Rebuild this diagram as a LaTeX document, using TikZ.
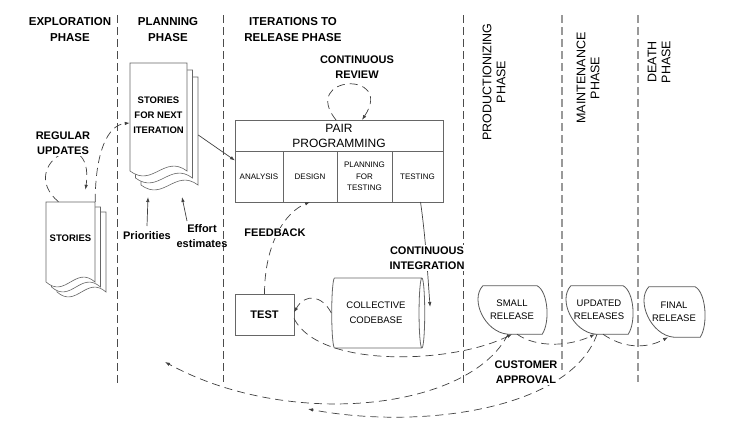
\documentclass[tikz,border=0pt]{standalone}
\usepackage{fontspec}
\setmainfont{Liberation Sans}
\usetikzlibrary{shapes, arrows.meta, positioning}

\tikzset{
	phase/.style={align=center, font=\bfseries\fontsize{11.5}{16}\selectfont},
	vphase/.style={align=center, rotate=90, font=\fontsize{12.5}{14}\selectfont},
	tag/.style={align=center, inner sep=1pt, font=\bfseries\fontsize{11}{15.5}\selectfont},
	mask/.style={fill=white},
	divider/.style={dash pattern=on 8pt off 4pt, line width=0.7pt, black!70},
	flow/.style={->, dash pattern=on 8pt off 5pt, line width=0.7pt, black!75},
	link/.style={->, line width=0.7pt, black!75},
	page/.style={draw=black!60, fill=white, line width=0.6pt},
	doctext/.style={align=center, font=\bfseries\fontsize{9.5}{15}\selectfont},
	cell/.style={rectangle, draw=black!60, line width=1pt, outer sep=0pt, align=center, font=\fontsize{8}{11.5}\selectfont},
	release/.style={align=center, minimum height=48pt, font=\fontsize{9.5}{13}\selectfont},
	blob/.style={draw=black!65, line width=0.8pt},
	>={Latex[length=5pt,width=3.5pt]}
}

% one sheet of a story stack: left, top, width, height
\newcommand{\storypage}[4]{%
	\draw[page] (#1,#2) -- ++(#3,0) -- ++(0,#4)
		.. controls +(-0.4*#3,-17) and +(0.4*#3,17) .. ++(-#3,0) -- cycle;}

% outline round a release node
\newcommand{\releaseblob}[1]{%
	\draw[blob] ([xshift=6pt]#1.north west) -- ([xshift=-10pt]#1.north east)
		.. controls ([xshift=1pt,yshift=-6pt]#1.north east) and ([xshift=3pt,yshift=12pt]#1.south east)
		.. ([xshift=-5pt]#1.south east) -- ([xshift=31pt]#1.south west)
		.. controls ([xshift=8pt,yshift=2pt]#1.south west) and ([xshift=-7pt,yshift=-14pt]#1.north west)
		.. ([xshift=6pt]#1.north west) -- cycle;}

\begin{document}
\begin{tikzpicture}[x=1pt, y=-1pt]
	\useasboundingbox (0,0) rectangle (738,437);
	
	\node[phase] (explo) at (70,30) {EXPLORATION\\PHASE};
	\node[phase] (plan) at (168,30) {PLANNING\\PHASE};
	\node[phase] (iter) at (293,30) {ITERATIONS TO\\RELEASE PHASE};
	\node[vphase] (prod) at (494,82) {PRODUCTIONIZING\\PHASE};
	\node[vphase] (maint) at (588,78) {MAINTENANCE\\PHASE};
	\node[vphase] (death) at (659,62) {DEATH\\PHASE};
	
	\draw[divider] (117,15) -- (117,383);
	\draw[divider] (223,15) -- (223,382);
	\draw[divider] (463,15) -- (463,385);
	\draw[divider, black!40, line width=1.2pt] (562,15) -- (562,370);
	\draw[divider, black!40, line width=1.2pt] (638,15) -- (638,382);
	
	% story stacks
	\storypage{57}{212}{49}{80}
	\storypage{51.5}{207}{49}{80}
	\storypage{46}{202}{49}{80}
	\node[doctext, minimum width=49pt, minimum height=72pt] (stories) at (70.5,238) {STORIES};
	
	\storypage{141}{77}{57}{108}
	\storypage{135.5}{70}{57}{108}
	\storypage{130}{63}{57}{108}
	\node[doctext, minimum width=57pt, minimum height=104pt] (sfni) at (158.5,115) {STORIES\\FOR NEXT\\ITERATION};
	
	% pair programming
	\node[cell, minimum width=208pt, minimum height=31pt, font=\fontsize{12}{15}\selectfont] (pair) at (339,135.5) {PAIR\\PROGRAMMING};
	\node[cell, minimum width=48pt, minimum height=51pt, anchor=north west] (ana) at (pair.south west) {ANALYSIS};
	\node[cell, minimum width=54pt, minimum height=51pt, right=0pt of ana] (des) {DESIGN};
	\node[cell, minimum width=55pt, minimum height=51pt, right=0pt of des] (pft) {PLANNING\\FOR\\TESTING};
	\node[cell, minimum width=51pt, minimum height=51pt, right=0pt of pft] (tes) {TESTING};
	
	\node[cell, minimum width=59pt, minimum height=41pt, font=\bfseries\fontsize{11}{13}\selectfont] (test) at (264.5,314.5) {TEST};
	\node[cylinder, draw=black!60, line width=0.8pt, shape aspect=0.2, minimum width=70pt, minimum height=93pt, align=center, font=\fontsize{9.5}{15}\selectfont] (code) at (376,313) {COLLECTIVE\\CODEBASE};
	
	% releases
	\node[release, minimum width=70pt] (small) at (512,310) {SMALL\\RELEASE};
	\node[release, minimum width=68pt] (upd) at (599,310) {UPDATED\\RELEASES};
	\node[release, minimum width=62pt, minimum height=50pt] (fin) at (674,312) {FINAL\\RELEASE};
	\releaseblob{small}
	\releaseblob{upd}
	\releaseblob{fin}
	
	\coordinate (prio-tip) at (148,197);
	\coordinate (eff-tip) at (182,197);
	\coordinate (plan-back) at (165,362);
	\coordinate (iter-back) at (308,409);
	
	% connectors
	\draw[flow] ([xshift=-12pt]stories.north) .. controls (15,165) and (95,120) .. ([xshift=15pt,yshift=12pt]stories.north);
	\draw[flow] (stories.north east) .. controls +(0,-50) and +(-22,2) .. ([yshift=-8pt]sfni.west);
	\draw[link] ([xshift=11pt,yshift=-20pt]sfni.east) -- ([yshift=16pt]ana.west);
	\draw[flow] ([xshift=-3pt]pair.north) .. controls (300,75) and (395,70) .. ([xshift=23pt]pair.north);
	\draw[flow] (test.north) .. controls +(0,-50) and +(-25,10) .. (des.south);
	\draw[link] ([xshift=3pt]tes.south) .. controls (426,240) and (428,280) .. ([xshift=5pt,yshift=6pt]code.east);
	\draw[flow] (code.west) .. controls (322,295) and (305,293) .. ([yshift=2pt]test.east);
	\draw[flow] ([yshift=-4pt]test.east) .. controls +(25,50) and +(-60,30) .. (small.south);
	\draw[flow] ([xshift=5pt]small.south) .. controls +(20,14) and +(-25,12) .. ([xshift=-4pt]upd.south);
	\draw[flow] ([xshift=4pt]upd.south) .. controls +(20,14) and +(-22,12) .. ([xshift=-6pt]fin.south);
	\draw[flow] ([xshift=-4pt]small.south) .. controls (470,410) and (290,430) .. (plan-back);
	\draw[flow] ([xshift=-2pt]upd.south) .. controls (570,410) and (420,430) .. (iter-back);
	\draw[link] (147,226) -- (prio-tip);
	\draw[link] (187,221) -- (eff-tip);
	
	% labels
	\node[tag, mask] (regular) at (63,143) {REGULAR\\UPDATES};
	\node[tag, mask] (review) at (357,67) {CONTINUOUS\\REVIEW};
	\node[tag, mask] (feedback) at (275,233) {FEEDBACK};
	\node[tag, mask] (integration) at (427,258) {CONTINUOUS\\INTEGRATION};
	\node[tag, mask] (approval) at (526,372) {CUSTOMER\\APPROVAL};
	\node[tag] (prio) at (147,236) {Priorities};
	\node[tag] (effort) at (202,236) {Effort\\estimates};
	
\end{tikzpicture}
\end{document}
